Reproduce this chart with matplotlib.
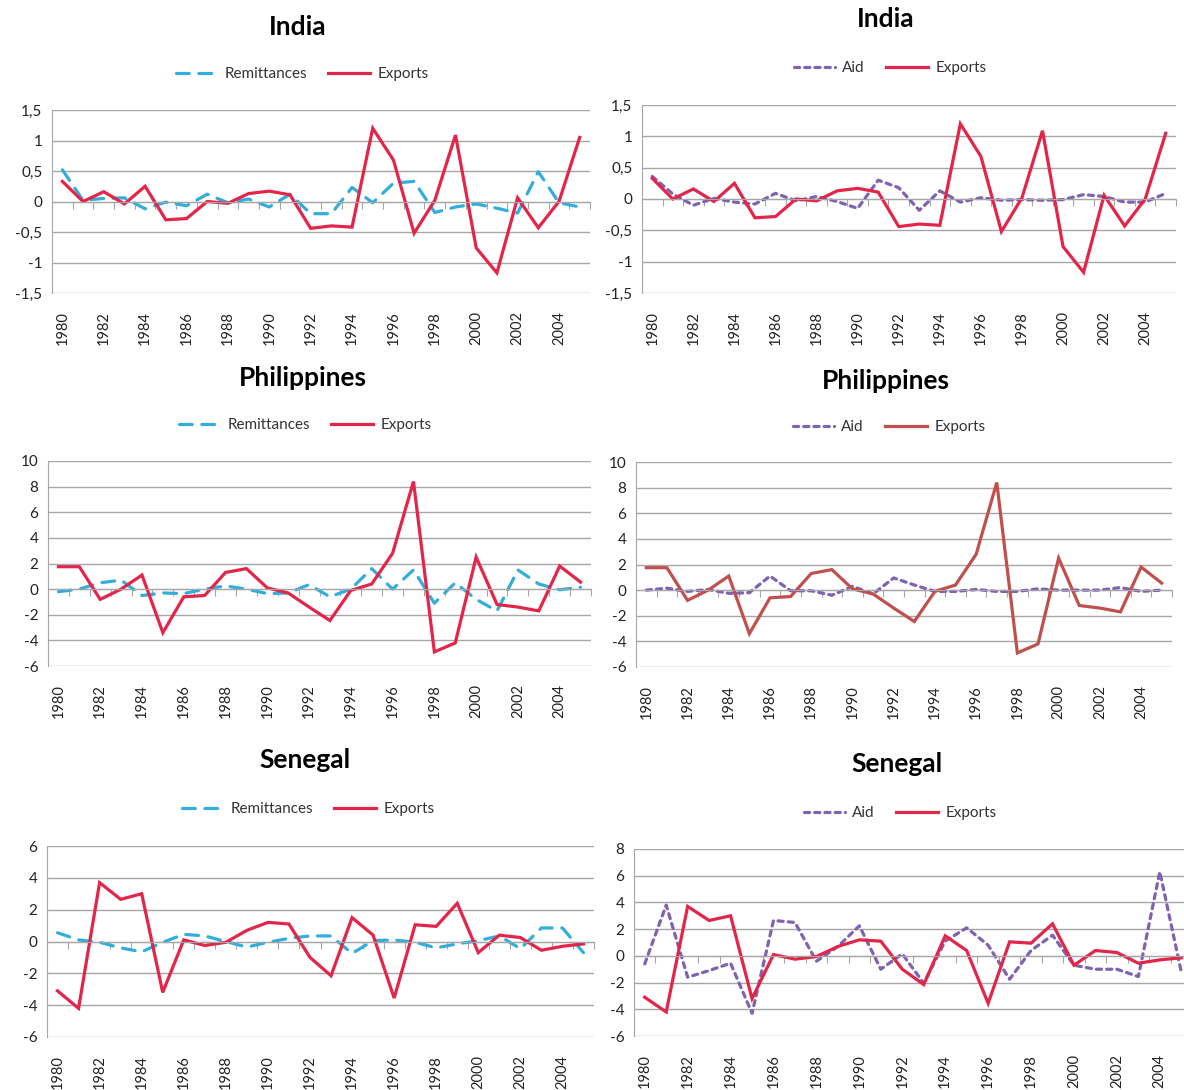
import numpy as np
import matplotlib.pyplot as plt

plt.rcParams['font.family'] = ['Lato', 'DejaVu Sans']

years = np.arange(1980, 2006)
year_labels = [str(y) for y in range(1980, 2006, 2)]

# India
india_exports = [0.33, 0.00, 0.16, -0.04, 0.25, -0.30, -0.28, 0.00, -0.03, 0.13, 0.17, 0.11, -0.44,
                 -0.40, -0.42, 1.20, 0.68, -0.52, 0.02, 1.09, -0.76, -1.17, 0.06, -0.43, 0.00, 1.05]
india_remit = [0.52, 0.02, 0.05, 0.06, -0.12, -0.01, -0.07, 0.12, -0.02, 0.04, -0.09, 0.12, -0.20,
               -0.20, 0.23, -0.02, 0.30, 0.33, -0.18, -0.09, -0.04, -0.11, -0.19, 0.49, -0.02, -0.09]
india_aid = [0.36, 0.08, -0.10, 0.01, -0.05, -0.08, 0.09, -0.03, 0.04, -0.04, -0.15, 0.30, 0.18,
             -0.18, 0.13, -0.05, 0.02, -0.02, -0.01, -0.02, -0.01, 0.07, 0.04, -0.05, -0.05, 0.09]

# Philippines
phil_exports = [1.75, 1.75, -0.8, 0.0, 1.1, -3.4, -0.6, -0.5, 1.3, 1.6, 0.1, -0.3, -1.4,
                -2.45, -0.1, 0.4, 2.8, 8.4, -4.9, -4.2, 2.5, -1.2, -1.4, -1.7, 1.8, 0.55]
phil_remit = [-0.2, 0.0, 0.5, 0.7, -0.5, -0.3, -0.35, 0.0, 0.25, 0.0, -0.35, -0.3, 0.35,
              -0.6, 0.0, 1.6, 0.0, 1.5, -1.1, 0.5, -0.8, -1.7, 1.5, 0.4, -0.05, 0.15]
phil_aid = [0.0, 0.15, -0.1, 0.05, -0.25, -0.2, 1.1, -0.05, -0.05, -0.4, 0.3, -0.3, 0.95,
            0.4, -0.1, -0.1, 0.05, -0.1, -0.1, 0.1, 0.0, 0.0, 0.0, 0.2, -0.1, 0.0]

# Senegal
sen_exports = [-3.1, -4.2, 3.7, 2.65, 3.0, -3.2, 0.1, -0.25, -0.05, 0.7, 1.2, 1.1, -1.0,
               -2.15, 1.5, 0.4, -3.55, 1.05, 0.95, 2.4, -0.7, 0.4, 0.25, -0.55, -0.3, -0.15]
sen_remit = [0.55, 0.1, -0.05, -0.4, -0.65, -0.05, 0.45, 0.35, 0.0, -0.35, -0.05, 0.2, 0.35,
             0.35, -0.75, 0.05, 0.1, -0.05, -0.4, -0.15, 0.05, 0.35, -0.45, 0.85, 0.85, -0.7]
sen_aid = [-0.6, 3.8, -1.6, -1.1, -0.55, -4.3, 2.65, 2.5, -0.4, 0.7, 2.25, -1.0, 0.15,
           -2.05, 1.1, 2.1, 0.8, -1.75, 0.4, 1.55, -0.7, -1.0, -1.0, -1.55, 6.3, -1.2]

india_ticks = [-1.5, -1, -0.5, 0, 0.5, 1, 1.5]
india_tlabels = ['-1,5', '-1', '-0,5', '0', '0,5', '1', '1,5']
phil_ticks = [-6, -4, -2, 0, 2, 4, 6, 8, 10]
sen_ticks_l = [-6, -4, -2, 0, 2, 4, 6]
sen_ticks_r = [-6, -4, -2, 0, 2, 4, 6, 8]

RED = '#E3254A'
BROWN = '#C0504D'
BLUE = '#33AEDB'
PURPLE = '#7F62B0'
GRID = '#A6A6A6'

W, H = 1184, 1090
fig = plt.figure(figsize=(W / 100, H / 100), dpi=100)


def panel(box, title, title_xy, leg_xy, other, other_name, exports, exp_color, yticks, ylabels=None):
    x0, x1, top, bottom = box
    ax = fig.add_axes([x0 / W, 1 - bottom / H, (x1 - x0) / W, (bottom - top) / H])
    x = np.arange(len(years))
    if other_name == 'Remittances':
        ax.plot(x, other, color=BLUE, lw=2.3, dashes=(4, 3), dash_capstyle='round', label=other_name)
    else:
        ax.plot(x, other, color=PURPLE, lw=2.3, dashes=(1.6, 1.6), dash_capstyle='round', label=other_name)
    ax.plot(x, exports, color=exp_color, lw=2.3, label='Exports', solid_joinstyle='miter')

    ax.set_xlim(-0.5, len(years) - 0.5)
    ax.set_ylim(yticks[0], yticks[-1])
    if ylabels is None:
        ylabels = [str(t) for t in yticks]
    ax.set_yticks(yticks, ylabels)
    ax.yaxis.grid(True, color=GRID, lw=1)
    ax.set_axisbelow(True)
    ax.tick_params(axis='y', length=0, pad=7, labelsize=11, labelcolor='#222222')
    for s in ['top', 'right']:
        ax.spines[s].set_visible(False)
    ax.spines['left'].set_color(GRID)
    ax.spines['bottom'].set_position(('data', 0))
    ax.spines['bottom'].set_color(GRID)
    ax.set_xticks(np.arange(-0.5, len(years), 1))
    ax.tick_params(axis='x', length=5, color=GRID, labelbottom=False)

    sec = ax.secondary_xaxis('bottom')
    sec.set_xticks(np.arange(0, len(years), 2), year_labels, rotation=90)
    sec.tick_params(length=0, pad=13, labelsize=10.5, labelcolor='#222222')
    sec.spines['bottom'].set_visible(False)

    fig.text(title_xy[0] / W, 1 - title_xy[1] / H, title, ha='center', va='center',
             fontsize=19, fontweight='bold')
    ax.legend(loc='center', bbox_to_anchor=(leg_xy[0] / W, 1 - leg_xy[1] / H),
              bbox_transform=fig.transFigure, ncol=2, frameon=False, fontsize=11,
              handlelength=2.7, handletextpad=0.5, columnspacing=1.4, labelcolor='#333333')
    return ax


panel((52, 590, 110, 293), 'India', (298, 27), (302, 74), india_remit, 'Remittances',
      india_exports, RED, india_ticks, india_tlabels)
panel((642, 1176, 105, 293), 'India', (886, 19), (890, 68), india_aid, 'Aid',
      india_exports, RED, india_ticks, india_tlabels)
panel((48, 591, 461, 666), 'Philippines', (303, 378), (305, 425), phil_remit, 'Remittances',
      phil_exports, RED, phil_ticks)
panel((636, 1172, 462, 667), 'Philippines', (886, 381), (889, 427), phil_aid, 'Aid',
      phil_exports, BROWN, phil_ticks)
panel((47, 594, 846, 1037), 'Senegal', (305, 760), (308, 809), sen_remit, 'Remittances',
      sen_exports, RED, sen_ticks_l)
panel((634, 1192, 849, 1036), 'Senegal', (897, 764), (900, 813), sen_aid, 'Aid',
      sen_exports, RED, sen_ticks_r)

fig.savefig('out.png', dpi=100)
